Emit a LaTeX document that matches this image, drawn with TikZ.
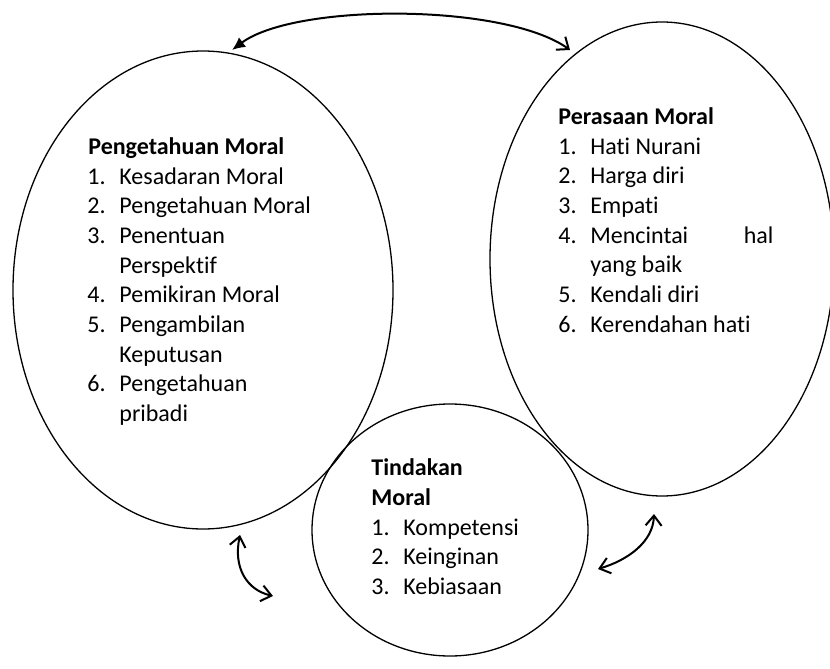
\documentclass[tikz,border=0pt]{standalone}
\usepackage{fontspec}
\setmainfont{Carlito}[Ligatures=NoCommon]
\usetikzlibrary{shapes.geometric,arrows.meta}
% list entry: number in a fixed-width slot, then the text
\newcommand\itm[2]{\makebox[16pt][l]{#1}#2}
\begin{document}
\begin{tikzpicture}[x=0.5pt,y=-0.5pt,
  bubble/.style={draw, ellipse, line width=0.65pt, inner sep=0pt, outer sep=0pt},
  txt/.style={anchor=base west, inner sep=0pt, font=\fontsize{12}{14.85}\selectfont},
  head/.style={txt, font=\fontsize{12}{14.85}\selectfont\bfseries},
  link/.style={line width=1pt},
  barb/.tip={Straight Barb[length=5pt,width=8pt,line width=1pt]},
  solid tip/.tip={Latex[length=6.5pt,width=6pt]}]
\useasboundingbox (0,0) rectangle (830,669);

% the three components
\node[bubble, minimum width=190pt, minimum height=239pt] (know) at (203,290) {};
\node[bubble, minimum width=172pt, minimum height=237pt] (feel) at (662,259) {};
\node[bubble, minimum width=138pt, minimum height=126pt] (act)  at (450,530) {};

% Pengetahuan Moral
\node[head] (k0) at (88,154.3) {Pengetahuan Moral};
\node[txt] (k1) at (87,184.0) {\itm{1.}{Kesadaran Moral}};
\node[txt] (k2) at (87,213.7) {\itm{2.}{Pengetahuan Moral}};
\node[txt] (k3) at (87,243.4) {\itm{3.}{Penentuan}};
\node[txt] (k3b) at (119,273.1) {Perspektif};
\node[txt] (k4) at (87,302.8) {\itm{4.}{Pemikiran Moral}};
\node[txt] (k5) at (87,332.5) {\itm{5.}{Pengambilan}};
\node[txt] (k5b) at (119,362.2) {Keputusan};
\node[txt] (k6) at (87,391.9) {\itm{6.}{Pengetahuan}};
\node[txt] (k6b) at (119,421.6) {pribadi};

% Perasaan Moral
\node[head] (f0) at (558,124.3) {Perasaan Moral};
\node[txt] (f1) at (558,154.0) {\itm{1.}{Hati Nurani}};
\node[txt] (f2) at (558,183.7) {\itm{2.}{Harga diri}};
\node[txt] (f3) at (558,213.4) {\itm{3.}{Empati}};
\node[txt] (f4) at (558,243.1) {\itm{4.}{\makebox[91.5pt][l]{Mencintai\hfill hal}}};
\node[txt] (f4b) at (590,272.8) {yang baik};
\node[txt] (f5) at (558,302.5) {\itm{5.}{Kendali diri}};
\node[txt] (f6) at (558,332.2) {\itm{6.}{Kerendahan hati}};

% Tindakan Moral
\node[head] (a0) at (371,475.7) {Tindakan};
\node[head] (a0b) at (371,505.4) {Moral};
\node[txt] (a1) at (371,535.1) {\itm{1.}{Kompetensi}};
\node[txt] (a2) at (371,564.8) {\itm{2.}{Keinginan}};
\node[txt] (a3) at (371,594.5) {\itm{3.}{Kebiasaan}};

% ends of the connecting arrows
\coordinate (kTop) at (232,50);
\coordinate (fTop) at (570,50);
\coordinate (kBot) at (240,535);
\coordinate (aLeft) at (273,596);
\coordinate (fBot) at (654,514);
\coordinate (aRight) at (598,569);

\draw[link, {solid tip}-{barb}] (kTop) .. controls (295,3) and (505,3) .. (fTop);
\draw[link, {barb}-{barb}] (kBot) .. controls (233,568) and (247,590) .. (aLeft);
\draw[link, {barb}-{barb}] (fBot) .. controls (653,542) and (628,560) .. (aRight);
\end{tikzpicture}
\end{document}
